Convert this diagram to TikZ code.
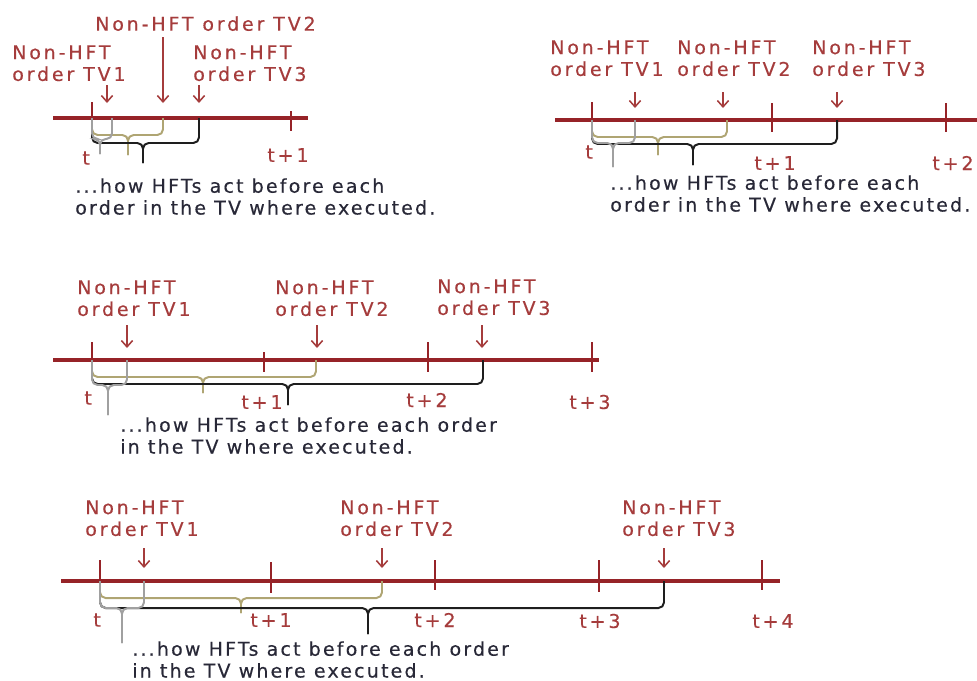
\documentclass[tikz,border=0pt]{standalone}
\usepackage{fontspec}
\setmainfont{DejaVu Sans}
\newfontfamily\lblfont[LetterSpace=15,FakeBold=0.4]{DejaVu Sans}
\newfontfamily\notefont[LetterSpace=11.5,FakeBold=0.4]{DejaVu Sans}
\usetikzlibrary{arrows.meta}

\definecolor{linered}{RGB}{150,35,40}
\definecolor{txtred}{RGB}{165,60,60}
\definecolor{bolive}{RGB}{175,165,115}
\definecolor{bgrey}{RGB}{160,160,160}
\definecolor{bblack}{RGB}{30,30,30}
\definecolor{notetxt}{RGB}{40,40,55}

\tikzset{
timeline/.style={linered, line width=2.2pt},
tickmark/.style={linered, line width=1.3pt},
ordarrow/.style={txtred, line width=1.1pt, -{Straight Barb[length=4.5pt,width=8pt]}},
lbl/.style={txtred, font=\lblfont\fontsize{13.5}{15.5}\selectfont, inner sep=0pt, align=left, anchor=north west},
ticklbl/.style={txtred, font=\lblfont\fontsize{13.5}{15.5}\selectfont, inner sep=0pt},
note/.style={notetxt, font=\notefont\fontsize{13.5}{15.5}\selectfont, inner sep=0pt, align=left, anchor=north west},
brace/.style={line width=1.4pt, rounded corners=4pt}
}

\begin{document}
\begin{tikzpicture}[x=0.025cm,y=-0.025cm]

\clip (0,0) rectangle (977,680);

% Une periode
\begin{scope}[shift={(0,118)}]

\draw[timeline] (53,0) -- (308,0);

\foreach \x/\top/\bot/\lx/\ly/\lab in {
92/-16/0/86/40/t,
291/-7/13/288/37/t+1
}
{
\draw[tickmark] (\x,\top) -- (\x,\bot);
\node[ticklbl] (p1t\x) at (\lx,\ly) {\lab};
}

\coordinate (p1o1) at (107,0);
\coordinate (p1o2) at (163,0);
\coordinate (p1o3) at (199,0);

\node[lbl] (p1l1) at (12,-73) {Non-HFT\\order TV1};
\node[lbl] (p1l2) at (95,-102) {Non-HFT order TV2};
\node[lbl] (p1l3) at (193,-73) {Non-HFT\\order TV3};

\draw[ordarrow] (p1o1) ++(0,-33) -- ++(0,18);
\draw[ordarrow] (p1o2) ++(0,-81) -- ++(0,66);
\draw[ordarrow] (p1o3) ++(0,-33) -- ++(0,18);

\foreach \c/\e/\m/\lv/\tp in {
bolive/163/128/17/37,
bblack/199/143/25/45,
bgrey/112/100/21/36
}
{
\draw[brace,\c] (92,0) -- (92,\lv) -- (\m,\lv) -- (\m,\tp);
\draw[brace,\c] (\e,0) -- (\e,\lv) -- (\m,\lv) -- (\m,\tp);
}

\node[note] (p1n) at (75,60)
{...how HFTs act before each\\order in the TV where executed.};

\end{scope}

% Deux periodes
\begin{scope}[shift={(0,120)}]

\draw[timeline] (555,0) -- (990,0);

\foreach \x/\top/\bot/\lx/\ly/\lab in {
592/-18/0/589/32/t,
772/-17/12/775/43/t+1,
946/-17/12/953/43/t+2
}
{
\draw[tickmark] (\x,\top) -- (\x,\bot);
\node[ticklbl] (p2t\x) at (\lx,\ly) {\lab};
}

\coordinate (p2o1) at (635,0);
\coordinate (p2o2) at (723,0);
\coordinate (p2o3) at (837,0);

\node[lbl] (p2l1) at (550,-80) {Non-HFT\\order TV1};
\node[lbl] (p2l2) at (677,-80) {Non-HFT\\order TV2};
\node[lbl] (p2l3) at (812,-80) {Non-HFT\\order TV3};

\foreach \o in {p2o1,p2o2,p2o3}
{
\draw[ordarrow] (\o) ++(0,-28) -- ++(0,16);
}

\foreach \c/\e/\m/\lv/\tp in {
bolive/727/658/17/35,
bblack/837/693/24/45,
bgrey/635/613/23/47
}
{
\draw[brace,\c] (592,0) -- (592,\lv) -- (\m,\lv) -- (\m,\tp);
\draw[brace,\c] (\e,0) -- (\e,\lv) -- (\m,\lv) -- (\m,\tp);
}

\node[note] (p2n) at (610,55)
{...how HFTs act before each\\order in the TV where executed.};

\end{scope}

% Trois periodes
\begin{scope}[shift={(0,360)}]

\draw[timeline] (53,0) -- (599,0);

\foreach \x/\top/\bot/\lx/\ly/\lab in {
92/-18/0/88/38/t,
264/-8/12/262/42/t+1,
428/-18/12/427/40/t+2,
592/-18/12/590/42/t+3
}
{
\draw[tickmark] (\x,\top) -- (\x,\bot);
\node[ticklbl] (p3t\x) at (\lx,\ly) {\lab};
}

\coordinate (p3o1) at (127,0);
\coordinate (p3o2) at (317,0);
\coordinate (p3o3) at (482,0);

\node[lbl] (p3l1) at (77,-80) {Non-HFT\\order TV1};
\node[lbl] (p3l2) at (275,-80) {Non-HFT\\order TV2};
\node[lbl] (p3l3) at (437,-81) {Non-HFT\\order TV3};

\foreach \o in {p3o1,p3o2,p3o3}
{
\draw[ordarrow] (\o) ++(0,-35) -- ++(0,23);
}

\foreach \c/\e/\m/\lv/\tp in {
bolive/316/203/17/33,
bblack/483/288/24/45,
bgrey/127/108/25/55
}
{
\draw[brace,\c] (92,0) -- (92,\lv) -- (\m,\lv) -- (\m,\tp);
\draw[brace,\c] (\e,0) -- (\e,\lv) -- (\m,\lv) -- (\m,\tp);
}

\node[note] (p3n) at (120,57)
{...how HFTs act before each order\\in the TV where executed.};

\end{scope}

% Quatre periodes
\begin{scope}[shift={(0,581)}]

\draw[timeline] (61,0) -- (780,0);

\foreach \x/\top/\bot/\lx/\ly/\lab in {
100/-21/0/97/39/t,
271/-19/12/271/39/t+1,
435/-21/9/435/39/t+2,
599/-21/11/600/40/t+3,
762/-21/9/773/40/t+4
}
{
\draw[tickmark] (\x,\top) -- (\x,\bot);
\node[ticklbl] (p4t\x) at (\lx,\ly) {\lab};
}

\coordinate (p4o1) at (144,0);
\coordinate (p4o2) at (382,0);
\coordinate (p4o3) at (664,0);

\node[lbl] (p4l1) at (85,-81) {Non-HFT\\order TV1};
\node[lbl] (p4l2) at (340,-81) {Non-HFT\\order TV2};
\node[lbl] (p4l3) at (622,-81) {Non-HFT\\order TV3};

\foreach \o in {p4o1,p4o2,p4o3}
{
\draw[ordarrow] (\o) ++(0,-33) -- ++(0,20);
}

\foreach \c/\e/\m/\lv/\tp in {
bolive/382/241/17/32,
bblack/664/368/27/53,
bgrey/144/122/27/62
}
{
\draw[brace,\c] (100,0) -- (100,\lv) -- (\m,\lv) -- (\m,\tp);
\draw[brace,\c] (\e,0) -- (\e,\lv) -- (\m,\lv) -- (\m,\tp);
}

\node[note] (p4n) at (132,60)
{...how HFTs act before each order\\in the TV where executed.};

\end{scope}

\end{tikzpicture}
\end{document}
